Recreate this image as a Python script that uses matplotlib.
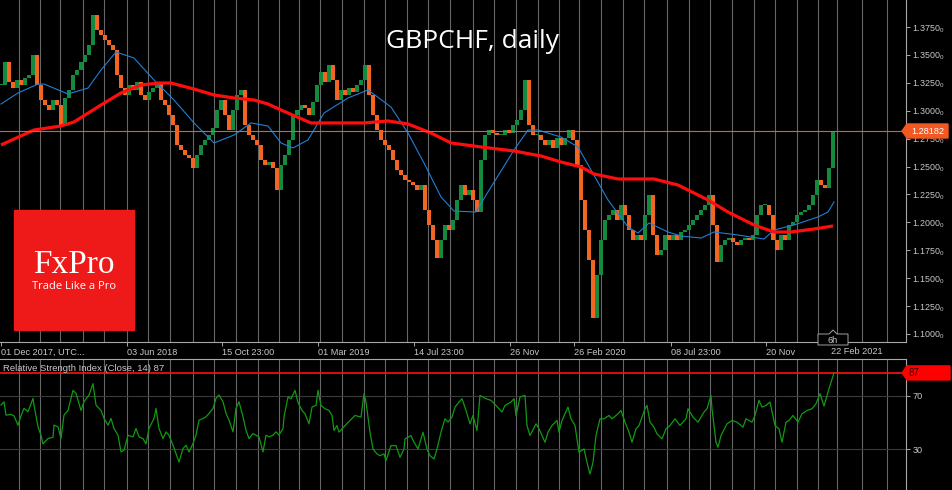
import numpy as np
import matplotlib
matplotlib.use("Agg")
import matplotlib.pyplot as plt
from matplotlib.patches import Rectangle, Polygon

plt.rcParams['mathtext.default'] = 'regular'

# ---------------- data ----------------
bar_step = 4  # each sampled candle covers 4 daily bars
closes = [
    1.3230, 1.3436, 1.3257, 1.3203, 1.3275, 1.3230, 1.3293, 1.3320, 1.3499, 1.3230,
    1.3096, 1.3051, 1.3006, 1.3096, 1.3051, 1.2872, 1.3114, 1.3186, 1.3320, 1.3365,
    1.3436, 1.3499, 1.3589, 1.3858, 1.3723, 1.3678, 1.3634, 1.3589, 1.3544, 1.3320,
    1.3203, 1.3141, 1.3230, 1.3186, 1.3257, 1.3141, 1.3096, 1.3168, 1.3203, 1.3257,
    1.3096, 1.3051, 1.2962, 1.2872, 1.2693, 1.2648, 1.2603, 1.2576, 1.2487, 1.2603,
    1.2693, 1.2738, 1.2782, 1.2845, 1.3006, 1.3096, 1.2962, 1.2827, 1.3006, 1.3141,
    1.3186, 1.2872, 1.2782, 1.2738, 1.2693, 1.2558, 1.2514, 1.2540, 1.2487, 1.2290,
    1.2514, 1.2603, 1.2738, 1.2962, 1.3006, 1.3051, 1.3024, 1.2962, 1.3078, 1.3230,
    1.3347, 1.3257, 1.3410, 1.3275, 1.3096, 1.3186, 1.3141, 1.3203, 1.3168, 1.3230,
    1.3275, 1.3410, 1.3141, 1.2962, 1.2827, 1.2738, 1.2693, 1.2648, 1.2558, 1.2469,
    1.2424, 1.2379, 1.2361, 1.2334, 1.2290, 1.2334, 1.2110, 1.1976, 1.1842, 1.1680,
    1.1842, 1.1976, 1.1931, 1.2021, 1.2200, 1.2334, 1.2245, 1.2290, 1.2200, 1.2092,
    1.2558, 1.2782, 1.2827, 1.2800, 1.2782, 1.2782, 1.2827, 1.2800, 1.2872, 1.2917,
    1.3006, 1.3275, 1.2872, 1.2782, 1.2782, 1.2738, 1.2693, 1.2738, 1.2666, 1.2755,
    1.2693, 1.2755, 1.2827, 1.2738, 1.2514, 1.2200, 1.1931, 1.1662, 1.1143, 1.1528,
    1.1842, 1.2021, 1.2066, 1.2110, 1.2021, 1.2155, 1.2066, 1.1931, 1.1842, 1.1886,
    1.1842, 1.2066, 1.2245, 1.1886, 1.1707, 1.1752, 1.1886, 1.1842, 1.1886, 1.1842,
    1.1913, 1.1931, 1.1976, 1.2021, 1.2066, 1.2110, 1.2155, 1.2245, 1.1976, 1.1644,
    1.1797, 1.1842, 1.1859, 1.1824, 1.1797, 1.1842, 1.1859, 1.1842, 1.1886, 1.2066,
    1.2155, 1.2155, 1.2066, 1.1842, 1.1752, 1.1886, 1.1842, 1.1976, 1.2003, 1.2066,
    1.2092, 1.2110, 1.2155, 1.2245, 1.2379, 1.2334, 1.2307, 1.2487, 1.28182,
]

ma_slow_bar = [0, 33, 60, 73, 100, 120, 140, 157, 170, 193, 213, 233, 253, 267, 280,
               310, 363, 387, 407, 430, 450, 480, 513, 540, 560, 580, 593, 617, 653,
               677, 707, 727, 753, 773, 790, 813, 832]
ma_slow = [1.2693, 1.2827, 1.2863, 1.2899, 1.3051, 1.3159, 1.3230, 1.3248, 1.3248,
           1.3194, 1.3141, 1.3114, 1.3096, 1.3060, 1.3006, 1.2890, 1.2890, 1.2908,
           1.2881, 1.2800, 1.2711, 1.2675, 1.2639, 1.2594, 1.2540, 1.2496, 1.2433,
           1.2388, 1.2388, 1.2334, 1.2200, 1.2092, 1.1976, 1.1913, 1.1913, 1.1940,
           1.1967]

ma_fast_bar = [0, 17, 37, 43, 67, 87, 100, 115, 133, 153, 173, 193, 213, 233, 250,
               267, 280, 292, 307, 323, 347, 367, 390, 407, 423, 440, 453, 475, 487,
               513, 527, 537, 560, 577, 590, 607, 627, 637, 648, 667, 680, 700, 713,
               737, 763, 773, 793, 817, 827, 833]
ma_fast = [1.3060, 1.3159, 1.3239, 1.3239, 1.3150, 1.3203, 1.3365, 1.3526, 1.3472,
           1.3275, 1.3096, 1.2890, 1.2711, 1.2782, 1.2890, 1.2863, 1.2711, 1.2666,
           1.2738, 1.2979, 1.3114, 1.3186, 1.3033, 1.2800, 1.2531, 1.2227, 1.2101,
           1.2092, 1.2272, 1.2648, 1.2827, 1.2827, 1.2764, 1.2675, 1.2469, 1.2200,
           1.1958, 1.1904, 1.1994, 1.1913, 1.1877, 1.1859, 1.1913, 1.1886, 1.1850,
           1.1931, 1.1976, 1.2048, 1.2092, 1.2182]

rsi_bar = [0, 3, 5, 10, 13, 17, 20, 23, 27, 32, 33, 37, 40, 42, 47, 52, 53, 57, 60, 63,
           67, 72, 75, 80, 83, 88, 92, 95, 100, 103, 107, 110, 113, 117, 120, 123, 127,
           132, 135, 138, 142, 145, 148, 153, 155, 158, 162, 165, 168, 172, 175, 178,
           182, 185, 188, 192, 195, 198, 202, 205, 208, 212, 215, 218, 222, 225, 228,
           232, 235, 238, 242, 245, 248, 252, 255, 258, 262, 265, 268, 272, 275, 278,
           282, 283, 287, 290, 294, 297, 301, 304, 308, 311, 315, 317, 320, 324, 328,
           331, 333, 336, 338, 344, 349, 354, 360, 363, 365, 369, 372, 376, 379, 383,
           385, 390, 395, 399, 403, 404, 410, 413, 417, 422, 426, 429, 433, 436, 440,
           444, 447, 451, 454, 458, 461, 465, 469, 472, 476, 479, 485, 490, 495, 501,
           504, 510, 513, 515, 519, 524, 526, 529, 535, 538, 544, 547, 551, 556, 558,
           561, 567, 570, 574, 578, 583, 586, 589, 592, 595, 599, 603, 608, 611, 617,
           620, 624, 628, 631, 635, 638, 644, 646, 649, 653, 656, 661, 665, 669, 674,
           679, 685, 687, 692, 697, 703, 706, 710, 711, 715, 717, 720, 726, 731, 736,
           742, 745, 751, 754, 758, 761, 765, 769, 774, 778, 781, 785, 788, 792, 797,
           801, 806, 811, 815, 819, 823, 828, 833]
rsi = [63, 65.5, 55.5, 56, 55, 48, 55, 60.5, 58, 68, 63, 46.75, 40.5, 34, 38, 39, 48,
       46.75, 38, 55.5, 59, 74, 71.75, 59, 65.5, 70.5, 79, 63, 59, 53, 48, 53, 45.5,
       40.5, 28, 29.25, 40.5, 39.25, 45.5, 39.25, 38, 34, 45.5, 53, 60.5, 45.5, 38, 43,
       40.5, 33, 26.75, 20.5, 30.5, 33, 28, 34.25, 40.5, 51.75, 53, 54.25, 56.75, 60.5,
       68, 70.5, 65.5, 56.75, 51.75, 43, 60.5, 65.5, 54.25, 44.25, 38, 41.75, 40.5,
       39.25, 28, 40.5, 39.25, 40.5, 43, 40.5, 45.5, 54.25, 69, 67.75, 74, 65, 59, 56.5,
       49, 61.5, 62.75, 74, 62.75, 60.25, 59, 55.25, 44, 47.75, 42.75, 47.75, 51.5,
       55.25, 54, 71.5, 65.25, 42.75, 30.25, 26.5, 25.25, 26.5, 21.5, 32.75, 32.75, 24,
       30.25, 37.75, 40.25, 35.25, 30.25, 42.75, 30.25, 25.25, 22.75, 30.25, 42.75,
       52.75, 50.25, 54, 61.5, 65.25, 67.75, 59, 49, 55.25, 44, 70.25, 67.75, 66.5,
       62.75, 57.75, 62.75, 65.25, 67.75, 55.25, 69, 70.25, 47.75, 40.25, 49, 45.25,
       35.25, 42.75, 47.75, 51.5, 42.75, 51.5, 61.5, 52.75, 47.75, 27.75, 30.25, 20.25,
       11.5, 20.25, 40.25, 52.75, 52.75, 55.25, 52.75, 56.5, 59, 50.25, 42.75, 35.25,
       45.25, 47.75, 60.25, 62.75, 50.25, 46.5, 41.5, 37.75, 45.25, 47.75, 52.75,
       47.75, 52.75, 60.25, 54, 50.25, 57.75, 60.25, 70.25, 60.25, 35.25, 31.5, 40.25,
       49, 51.5, 50.25, 46.5, 52.75, 50.25, 55.25, 66.5, 61.5, 62.75, 65.25, 47.75,
       45.25, 35.25, 50.25, 51.5, 55.25, 50.25, 56.5, 59, 60.25, 64, 71.5, 62.25,
       75.25, 87]

last_price = 1.28182
last_rsi = 87
price_ticks = [1.1000, 1.1250, 1.1500, 1.1750, 1.2000, 1.2250, 1.2500, 1.2750,
               1.3000, 1.3250, 1.3500, 1.3750]
rsi_levels = [70, 30]
month_bars = [18, 39, 59, 82, 103, 126, 147, 169, 192, 213, 235, 257, 278, 298, 319,
              341, 363, 384, 406, 427, 449, 472, 493, 515, 537, 558, 578, 600, 622,
              643, 666, 688, 709, 731, 753, 774, 796, 817, 836, 861, 886]
date_tick_bars = [0, 126, 221, 317, 413, 509, 573, 670, 765]
date_tick_labels = ["01 Dec 2017, UTC...", "03 Jun 2018", "15 Oct 23:00", "01 Mar 2019",
                    "14 Jul 23:00", "26 Nov", "26 Feb 2020", "08 Jul 23:00", "20 Nov"]
last_date_label = "22 Feb 2021"
period_label = "6h"
title = "GBPCHF, daily"
rsi_title = "Relative Strength Index (Close, 14) 87"

# ---------------- styling ----------------
W, H = 952, 490
BG = "black"
GRID = "#666666"
FRAME = "#a8a8a8"
TXT = "#c8c8c8"
BULL = "#138a3e"
BEAR = "#f26522"
SMALL = "Liberation Sans"

fig = plt.figure(figsize=(W / 100, H / 100), dpi=100, facecolor=BG)

# main price panel (pixels 0..906 x 0..342)
ax = fig.add_axes([0, 1 - 342 / H, 906 / W, 342 / H])
ax.set_facecolor(BG)
ax.set_xlim(-1, 905)
ax.set_ylim(1.375 - 315 / 1116, 1.375 + 27 / 1116)

for b in month_bars:
    ax.axvline(b, color=GRID, lw=0.8, zorder=1)

c = np.array(closes)
x = np.arange(len(c)) * bar_step
o = np.r_[c[0], c[:-1]]
up = c >= o
body = np.maximum(np.abs(c - o), 0.0007)
ax.bar(x, body, bottom=np.minimum(o, c), width=3.5,
       color=np.where(up, BULL, BEAR), linewidth=0, zorder=3)

ax.plot(ma_fast_bar, ma_fast, color="#1f7fd6", lw=0.8, zorder=4)
ax.plot(ma_slow_bar, ma_slow, color="#ff0d0d", lw=2.3, zorder=5,
        solid_capstyle="butt")
ax.axhline(last_price, color="#e0602c", lw=0.8, zorder=6)

for s in ["left", "top"]:
    ax.spines[s].set_visible(False)
for s in ["right", "bottom"]:
    ax.spines[s].set_color(FRAME)
    ax.spines[s].set_linewidth(0.8)

ax.yaxis.tick_right()
ax.set_yticks(price_ticks)
ax.set_yticklabels([f"{v:.4f}$_0$" for v in price_ticks], fontfamily=SMALL)
ax.tick_params(axis="y", colors=TXT, labelsize=6.4, length=3, width=0.7, pad=1.5)
ax.tick_params(axis="y", color=FRAME)
ax.set_xticks(date_tick_bars)
ax.set_xticklabels(date_tick_labels, fontfamily=SMALL)
ax.tick_params(axis="x", colors=TXT, labelsize=6.6, length=3, width=0.7, pad=1.2,
               color=FRAME)
for lbl in ax.get_xticklabels():
    lbl.set_horizontalalignment("left")

# RSI panel (pixels 0..906 x 359..490)
axr = fig.add_axes([0, 0, 906 / W, 131 / H])
axr.set_facecolor(BG)
axr.set_xlim(-1, 905)
axr.set_ylim(-0.4, 97.4)
for b in month_bars:
    axr.axvline(b, color=GRID, lw=0.8, zorder=1)
for lv in rsi_levels:
    axr.axhline(lv, color="#3a3a3a", lw=0.8, zorder=2)
axr.axhline(last_rsi, color="#ff1010", lw=1.2, zorder=3)
axr.plot(rsi_bar, rsi, color="#109a12", lw=0.9, zorder=4)
for s in ["left", "bottom"]:
    axr.spines[s].set_visible(False)
for s in ["right", "top"]:
    axr.spines[s].set_color(FRAME)
    axr.spines[s].set_linewidth(0.8)
axr.yaxis.tick_right()
axr.set_yticks(rsi_levels)
axr.set_yticklabels([str(v) for v in rsi_levels], fontfamily=SMALL)
axr.tick_params(axis="y", colors=TXT, labelsize=6.6, length=3, width=0.7, pad=1.5,
                color=FRAME)
axr.set_xticks([])

# overlay in pixel coordinates (top-left origin)
ov = fig.add_axes([0, 0, 1, 1], zorder=10)
ov.set_xlim(0, W)
ov.set_ylim(H, 0)
ov.axis("off")
ov.patch.set_alpha(0)

ov.text(472, 48, title, ha="center", va="baseline", fontsize=19,
        fontfamily="Open Sans", color="white")

# logo
ov.add_patch(Rectangle((14, 210), 120, 120, color="#ee1a1a"))
ov.text(74, 273, "FxPro", ha="center", va="baseline", fontsize=24,
        fontfamily="Liberation Serif", color="white")
ov.text(74, 289, "Trade Like a Pro", ha="center", va="baseline", fontsize=8,
        fontfamily="Open Sans", color="white")

# current price label
yp = H - ax.transData.transform((0, last_price))[1]
ov.add_patch(Polygon([(902, yp), (907, yp - 7), (948, yp - 7), (948, yp + 7),
                      (907, yp + 7)], closed=True, color="#f05a22"))
ov.text(928, yp + 0.5, f"{last_price:.5f}", ha="center", va="center", fontsize=6.6,
        fontfamily=SMALL, color="white")

# current RSI label
yr = H - axr.transData.transform((0, last_rsi))[1]
ov.add_patch(Polygon([(902, yr), (907, yr - 7), (950, yr - 7), (950, yr + 7),
                      (907, yr + 7)], closed=True, color="#ff0000"))
ov.text(909, yr + 0.5, str(last_rsi), ha="left", va="center", fontsize=7,
        fontfamily=SMALL, color="#300000")

# last date + period box
ov.text(831, 354, last_date_label, ha="left", va="baseline", fontsize=6.6,
        fontfamily=SMALL, color=TXT)
ov.add_patch(Polygon([(818, 345), (818, 334), (829, 334), (833, 330), (837, 334),
                      (848, 334), (848, 345)], closed=True, facecolor=BG,
                     edgecolor="#a0a0a0", lw=0.7))
ov.text(833, 340, period_label, ha="center", va="center", fontsize=6.6,
        fontfamily=SMALL, color=TXT)

ov.text(3, 371, rsi_title, ha="left", va="baseline", fontsize=6.8,
        fontfamily=SMALL, color=TXT)

fig.savefig("out.png", dpi=100, facecolor=BG)
